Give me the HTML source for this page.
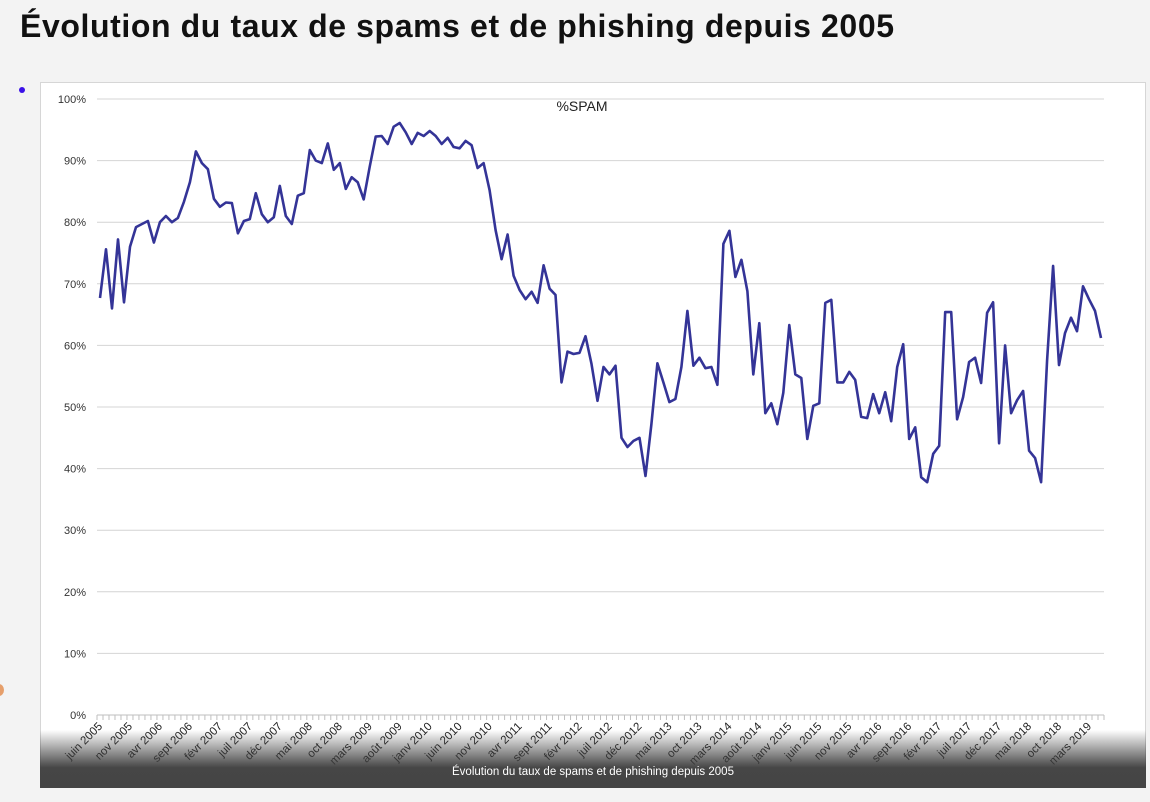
<!DOCTYPE html>
<html><head><meta charset="utf-8">
<style>
body{margin:0;width:1150px;height:802px;background:#f3f3f3;overflow:hidden;font-family:"Liberation Sans",sans-serif;position:relative}
h1{position:absolute;left:20px;top:8px;margin:0;font-size:32px;font-weight:bold;color:#111;letter-spacing:0.6px}
.dot{position:absolute;left:19px;top:87px;width:6px;height:6px;border-radius:50%;background:#3a10e8}
.orange{position:absolute;left:-6px;top:684px;width:10px;height:12px;border-radius:50%;background:#e07a30;opacity:.7}
#card{position:absolute;left:40px;top:82px;width:1106px;height:706px;background:#fff;border:1px solid #d6d6d6;box-sizing:border-box}
#overlay{position:absolute;left:40px;top:730px;width:1106px;height:58px;background:linear-gradient(to bottom,rgba(60,60,60,0),rgba(60,60,60,.95) 65%,#444);}
#cap{position:absolute;left:40px;top:766px;width:1106px;text-align:center;color:#fff;font-size:11.5px}
svg{position:absolute;left:0;top:0}
</style></head><body>
<h1>Évolution du taux de spams et de phishing depuis 2005</h1>
<div class="dot"></div>
<div class="orange"></div>
<div id="card"></div>
<svg id="chart" width="1150" height="802"></svg>
<div id="overlay"></div>
<div id="cap">Évolution du taux de spams et de phishing depuis 2005</div>
<script>
const spamValues=[67.7,75.6,66,77.2,67,76,79.2,79.7,80.2,76.7,80,81,80,80.7,83.3,86.5,91.5,89.6,88.6,83.8,82.5,83.2,83.1,78.2,80.2,80.5,84.7,81.3,80,80.8,85.9,81,79.7,84.3,84.7,91.7,90,89.6,92.8,88.5,89.6,85.4,
87.3,86.5,83.7,89,93.9,94,92.7,95.5,96.1,94.6,92.7,94.5,94,94.8,94,92.7,93.7,92.2,92,93.2,92.5,88.8,89.6,85.2,78.7,74,78,71.3,69,67.5,68.7,66.9,73,69.2,68.2,54,59,58.6,58.8,61.5,57,51,
56.5,55.3,56.7,45,43.5,44.5,45,38.8,47.2,57.1,54,50.8,51.3,56.5,65.6,56.7,58,56.3,56.5,53.6,76.5,78.6,71.1,73.9,68.8,55.3,63.6,49,50.6,47.2,52.3,63.3,55.3,54.7,44.8,50.2,50.6,66.9,67.4,54,54,55.7,
54.4,48.4,48.2,52.1,49,52.4,47.7,56.5,60.2,44.8,46.7,38.6,37.8,42.4,43.7,65.4,65.4,48,51.6,57.3,58,53.9,65.3,67,44.1,60,49,51.1,52.6,42.9,41.7,37.8,57.6,72.9,56.8,62,64.5,62.3,69.6,67.5,65.6,61.2];
const monthNames=["janv","févr","mars","avr","mai","juin","juil","août","sept","oct","nov","déc"];
const startMonth=5, startYear=2005;
const yTicks=[0,10,20,30,40,50,60,70,80,90,100];
const seriesName="%SPAM";

const NS="http://www.w3.org/2000/svg";
const svg=document.getElementById('chart');
const x0=97,x1=1104,yTop=99,yBot=715;
const n=spamValues.length;
const step=(x1-x0)/n;
const xs=i=>x0+step*(i+0.5);
const ys=v=>yBot-(v/100)*(yBot-yTop);
function mk(t,a){const e=document.createElementNS(NS,t);for(const k in a)e.setAttribute(k,a[k]);svg.appendChild(e);return e;}
yTicks.forEach(t=>{
  const g=mk('line',{x1:x0,x2:x1,y1:ys(t),y2:ys(t),stroke:t===0?'#bfbfbf':'#d4d4d4','stroke-width':1});
  
  
  const l=mk('text',{x:86,y:ys(t)+4,'text-anchor':'end','font-size':11,fill:'#333','font-family':'Liberation Sans, sans-serif'});
  l.textContent=t+'%';
  
  
});
for(let i=0;i<=n;i++){
  const tk=mk('line',{x1:x0+step*i,x2:x0+step*i,y1:yBot,y2:yBot+5,stroke:'#bfbfbf','stroke-width':1});
  
  
}
for(let i=0;i<n;i+=5){
  const m=(startMonth+i)%12, y=startYear+Math.floor((startMonth+i)/12);
  const x=xs(i);
  const l=mk('text',{x:x+3,y:yBot+12,'text-anchor':'end','font-size':11.5,fill:'#222','font-family':'Liberation Sans, sans-serif',transform:`rotate(-45 ${x+3} ${yBot+12})`});
  l.textContent=monthNames[m]+' '+y;
  
  
}
const pts=spamValues.map((v,i)=>xs(i).toFixed(1)+','+ys(v).toFixed(1)).join(' ');
const pl=mk('polyline',{points:pts,fill:'none',stroke:'#343497','stroke-width':2.6,'stroke-linejoin':'round'});


const tt=mk('text',{x:582,y:111,'text-anchor':'middle','font-size':14,fill:'#222','font-family':'Liberation Sans, sans-serif'});
tt.textContent=seriesName;


</script>
</body></html>
